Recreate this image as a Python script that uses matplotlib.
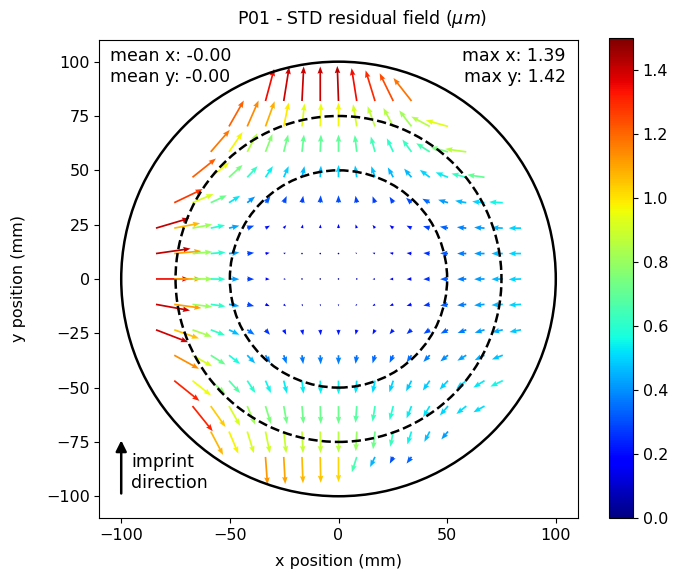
import numpy as np
import matplotlib
matplotlib.use("Agg")
import matplotlib.pyplot as plt
from matplotlib.patches import Circle

# ---- measurement grid (mm) ----
site_dx = 8.4      # column pitch
site_dy = 11.7     # row pitch
row_j = [7, 6, 5, 4, 3, 2, 1, 0, -1, -2, -3, -4, -5, -6, -7]
row_first_i = [-4, -6, -7, -8, -9, -10, -10, -10, -10, -10, -9, -9, -8, -7, -4]

# ---- residuals (um), one list per row, left to right ----
u_r7 = [0.35, 0.22, 0.07, 0.00, -0.05, -0.21, -0.38, -0.55, -0.73]
v_r7 = [1.30, 1.38, 1.40, 1.40, 1.42, 1.33, 1.24, 1.12, 0.93]
u_r6 = [0.60, 0.46, 0.37, 0.20, 0.10, 0.03, 0.00, -0.15, -0.30, -0.40, -0.50, -0.75, -0.90]
v_r6 = [1.05, 1.05, 1.02, 0.97, 0.93, 0.95, 0.97, 0.90, 0.82, 0.75, 0.65, 0.40, 0.25]
u_r5 = [0.77, 0.55, 0.40, 0.28, 0.18, 0.08, 0.03, 0.00, -0.08, -0.17, -0.26, -0.37, -0.55, -0.72, -0.85]
v_r5 = [0.89, 0.80, 0.75, 0.72, 0.70, 0.70, 0.70, 0.70, 0.68, 0.62, 0.55, 0.50, 0.35, 0.20, 0.12]
u_r4 = [0.95, 0.75, 0.55, 0.42, 0.30, 0.20, 0.10, 0.03, 0.00, -0.07, -0.15, -0.22, -0.30, -0.40, -0.50, -0.60, -0.70]
v_r4 = [0.76, 0.60, 0.50, 0.45, 0.45, 0.45, 0.45, 0.47, 0.50, 0.48, 0.45, 0.40, 0.35, 0.30, 0.20, 0.15, 0.10]
u_r3 = [1.15, 0.85, 0.65, 0.45, 0.32, 0.20, 0.12, 0.05, 0.02, 0.00, -0.05, -0.10, -0.15, -0.22, -0.30, -0.40, -0.45, -0.50, -0.55]
v_r3 = [0.55, 0.35, 0.30, 0.28, 0.25, 0.25, 0.27, 0.28, 0.30, 0.30, 0.28, 0.26, 0.24, 0.20, 0.16, 0.12, 0.08, 0.05, 0.03]
u_r2 = [1.35, 1.05, 0.80, 0.58, 0.42, 0.28, 0.18, 0.10, 0.04, 0.01, 0.00, -0.05, -0.10, -0.15, -0.20, -0.27, -0.33, -0.38, -0.42, -0.46, -0.50]
v_r2 = [0.40, 0.20, 0.15, 0.12, 0.10, 0.10, 0.10, 0.12, 0.15, 0.15, 0.17, 0.15, 0.13, 0.12, 0.10, 0.08, 0.06, 0.04, 0.03, 0.02, 0.00]
u_r1 = [1.40, 1.10, 0.80, 0.60, 0.42, 0.28, 0.17, 0.09, 0.04, 0.01, 0.00, -0.06, -0.10, -0.15, -0.20, -0.26, -0.32, -0.37, -0.42, -0.46, -0.50]
v_r1 = [0.20, 0.10, 0.07, 0.05, 0.04, 0.03, 0.03, 0.03, 0.04, 0.04, 0.05, 0.04, 0.03, 0.03, 0.02, 0.02, 0.01, 0.00, 0.00, 0.00, 0.00]
u_r0 = [1.35, 1.10, 0.82, 0.60, 0.42, 0.28, 0.17, 0.09, 0.04, 0.01, 0.01, -0.06, -0.10, -0.15, -0.20, -0.26, -0.32, -0.37, -0.42, -0.46, -0.50]
v_r0 = [0.00, 0.00, 0.00, -0.01, -0.01, -0.01, -0.01, -0.01, -0.01, -0.01, 0.00, -0.01, -0.01, -0.01, -0.01, -0.01, -0.01, -0.01, -0.01, -0.01, -0.02]
u_m1 = [1.38, 1.10, 0.80, 0.60, 0.42, 0.28, 0.17, 0.09, 0.04, 0.02, 0.00, -0.05, -0.10, -0.15, -0.20, -0.26, -0.32, -0.37, -0.42, -0.46, -0.50]
v_m1 = [-0.25, -0.15, -0.10, -0.08, -0.07, -0.07, -0.07, -0.08, -0.08, -0.08, -0.08, -0.07, -0.07, -0.06, -0.06, -0.05, -0.05, -0.04, -0.04, -0.03, -0.03]
u_m2 = [1.30, 1.00, 0.78, 0.58, 0.42, 0.30, 0.18, 0.10, 0.05, 0.02, 0.00, -0.05, -0.10, -0.15, -0.20, -0.25, -0.30, -0.35, -0.40, -0.43, -0.47]
v_m2 = [-0.50, -0.35, -0.28, -0.22, -0.20, -0.20, -0.20, -0.20, -0.22, -0.22, -0.22, -0.20, -0.19, -0.18, -0.17, -0.16, -0.15, -0.13, -0.12, -0.10, -0.09]
u_m3 = [1.00, 0.80, 0.60, 0.45, 0.32, 0.20, 0.12, 0.05, 0.02, 0.00, -0.05, -0.10, -0.15, -0.20, -0.26, -0.31, -0.36, -0.40, -0.44]
v_m3 = [-0.55, -0.45, -0.38, -0.35, -0.33, -0.33, -0.35, -0.36, -0.37, -0.38, -0.35, -0.33, -0.31, -0.29, -0.27, -0.25, -0.22, -0.20, -0.17]
u_m4 = [1.02, 0.75, 0.58, 0.45, 0.33, 0.22, 0.13, 0.06, 0.02, 0.00, -0.05, -0.10, -0.16, -0.22, -0.28, -0.34, -0.40, -0.45, -0.50]
v_m4 = [-0.82, -0.60, -0.52, -0.50, -0.50, -0.50, -0.52, -0.53, -0.54, -0.55, -0.52, -0.50, -0.47, -0.43, -0.40, -0.36, -0.32, -0.28, -0.24]
u_m5 = [0.82, 0.60, 0.45, 0.32, 0.22, 0.13, 0.06, 0.02, 0.00, -0.05, -0.10, -0.15, -0.20, -0.27, -0.33, -0.40, -0.45]
v_m5 = [-1.02, -0.85, -0.80, -0.75, -0.72, -0.72, -0.72, -0.72, -0.72, -0.68, -0.63, -0.57, -0.50, -0.45, -0.38, -0.32, -0.25]
u_m6 = [0.50, 0.38, 0.27, 0.18, 0.10, 0.04, 0.01, 0.00, -0.04, -0.08, -0.12, -0.17, -0.22, -0.27]
v_m6 = [-0.95, -0.90, -0.88, -0.88, -0.88, -0.88, -0.88, -0.86, -0.80, -0.72, -0.62, -0.52, -0.42, -0.32]
u_m7 = [0.08, 0.06, 0.04, 0.02, 0.00, -0.20, -0.20, -0.14, -0.20]
v_m7 = [-1.12, -1.10, -1.07, -1.05, -1.02, -0.62, -0.41, -0.27, -0.27]

u_rows = [u_r7, u_r6, u_r5, u_r4, u_r3, u_r2, u_r1, u_r0, u_m1, u_m2, u_m3, u_m4, u_m5, u_m6, u_m7]
v_rows = [v_r7, v_r6, v_r5, v_r4, v_r3, v_r2, v_r1, v_r0, v_m1, v_m2, v_m3, v_m4, v_m5, v_m6, v_m7]

title = "P01 - STD residual field ($\\mu m$)"
mean_text = "mean x: -0.00\nmean y: -0.00"
max_text = "max x: 1.39\nmax y: 1.42"
cbar_ticks = [0.0, 0.2, 0.4, 0.6, 0.8, 1.0, 1.2, 1.4]

# ---- assemble ----
X, Y, U, V = [], [], [], []
for j, i0, us, vs in zip(row_j, row_first_i, u_rows, v_rows):
    for k, (u, v) in enumerate(zip(us, vs)):
        X.append((i0 + k) * site_dx)
        Y.append(j * site_dy)
        U.append(u)
        V.append(v)
X, Y, U, V = map(np.array, (X, Y, U, V))
C = np.hypot(U, V)

fig = plt.figure(figsize=(6.8, 5.74), dpi=100)
ax = fig.add_axes([0.1456, 0.0976, 0.7044, 0.8328])
cax = fig.add_axes([0.8956, 0.0970, 0.0353, 0.8362])

q = ax.quiver(X, Y, U, V, C, cmap="jet", clim=(0, 1.5), angles="xy",
              scale_units="xy", scale=0.088, pivot="tail", width=0.0036,
              headwidth=3.2, headlength=4.2, headaxislength=3.8)

for r, ls in [(100, "-"), (75, "--"), (50, "--")]:
    ax.add_patch(Circle((0, 0), r, fill=False, edgecolor="black", lw=1.8, ls=ls))

ax.set_xlim(-110, 110)
ax.set_ylim(-110, 110)
ax.set_aspect("equal")
ax.set_xticks([-100, -50, 0, 50, 100])
ax.set_yticks([-100, -75, -50, -25, 0, 25, 50, 75, 100])
ax.tick_params(labelsize=11.5)
ax.set_xlabel("x position (mm)", fontsize=11.5, labelpad=8)
ax.set_ylabel("y position (mm)", fontsize=11.5, labelpad=14)
fig.text(0.532, 1 - 19 / 574, title, ha="center", va="center", fontsize=12.5)

ax.text(0.023, 0.985, mean_text, transform=ax.transAxes, ha="left", va="top", fontsize=12.5)
ax.text(0.975, 0.985, max_text, transform=ax.transAxes, ha="right", va="top", fontsize=12.5)

ax.annotate("", xy=(-100, -73), xytext=(-100, -100),
            arrowprops=dict(arrowstyle="-|>", color="black", lw=1.8, mutation_scale=16))
ax.text(-95.5, -89, "imprint\ndirection", ha="left", va="center", fontsize=12.5)

cb = fig.colorbar(q, cax=cax)
cb.set_ticks(cbar_ticks)
cb.ax.tick_params(labelsize=11.5)

fig.savefig("out.png", dpi=100)
